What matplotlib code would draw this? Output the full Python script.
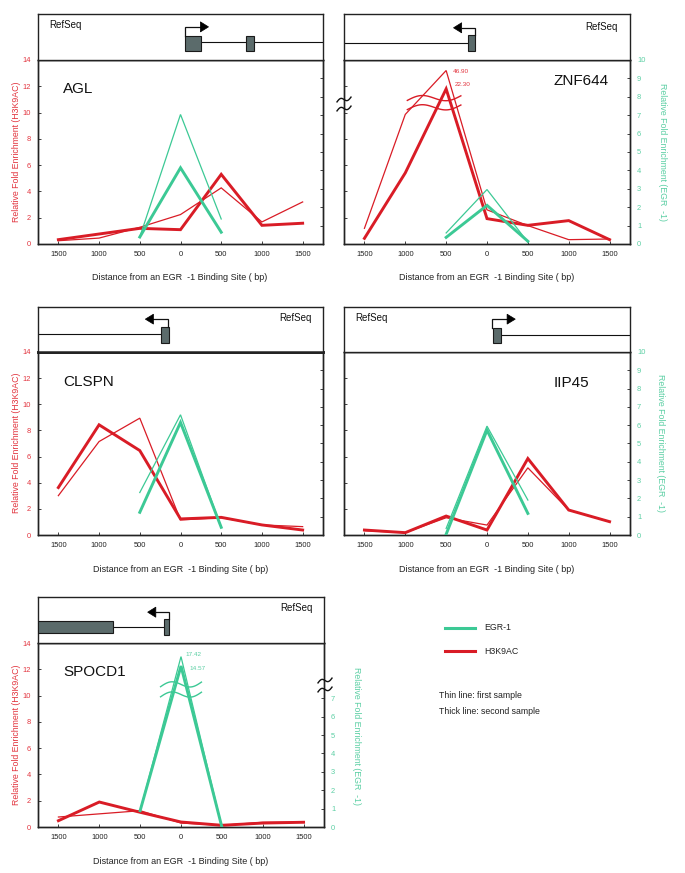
import matplotlib
matplotlib.use('Agg')
import matplotlib.pyplot as plt
import numpy as np
from matplotlib.lines import Line2D
from matplotlib.patches import Rectangle, Polygon

plt.rcParams['font.family'] = ['Liberation Sans', 'DejaVu Sans']

RED = '#d91c26'
GREEN = '#3cc995'
RED_TXT = '#e2343e'
GREEN_TXT = '#5ccfa4'
SPINE = '#222222'
EXON = '#5b6b6b'

# ---------------- data ----------------
positions = [-1500, -1000, -500, 0, 500, 1000, 1500]
tick_labels = ['1500', '1000', '500', '0', '500', '1000', '1500']
egr_positions = [-500, 0, 500]

agl_h3_thin = [0.25, 0.45, 1.27, 2.24, 4.27, 1.68, 3.2]
agl_h3_thick = [0.33, 0.76, 1.19, 1.09, 5.3, 1.42, 1.58]
agl_egr_thin = [0.38, 7.04, 1.36]
agl_egr_thick = [0.38, 4.14, 0.64]

znf_h3_thin = [1.19, 9.86, 13.2, 2.6, 1.4, 0.33, 0.38]
znf_h3_thick = [0.43, 5.41, 11.8, 1.93, 1.42, 1.78, 0.33]
znf_egr_thin = [0.6, 2.96, 0.1]
znf_egr_thick = [0.36, 2.1, 0.15]
znf_peak_labels = ['46.90', '22.30']

clspn_h3_thin = [3.01, 7.15, 8.94, 1.15, 1.33, 0.77, 0.64]
clspn_h3_thick = [3.63, 8.43, 6.46, 1.23, 1.35, 0.77, 0.38]
clspn_egr_thin = [2.32, 6.57, 0.42]
clspn_egr_thick = [1.24, 6.15, 0.42]

iip_h3_thin = [0.33, 0.18, 1.32, 0.76, 5.14, 1.91, 1.02]
iip_h3_thick = [0.38, 0.18, 1.45, 0.38, 5.85, 1.91, 1.02]
iip_egr_thin = [0.36, 5.95, 1.91]
iip_egr_thick = [0.04, 5.73, 1.18]

spocd_thin_positions = [-1500, -500, 0, 500, 1000, 1500]
spocd_h3_thin = [0.76, 1.24, 0.3, 0.13, 0.36, 0.38]
spocd_h3_thick = [0.48, 1.9, 1.12, 0.38, 0.13, 0.3, 0.36]
spocd_egr_thin = [0.89, 9.26, 0.0]
spocd_egr_thick = [0.89, 8.75, 0.0]
spocd_peak_labels = ['17.42', '14.57']

# gene structures (bp): exons (start, end)
agl_exons = [(61, 250), (810, 904)]
znf_exons = [(-238, -144)]
clspn_exons = [(-240, -143)]
iip_exons = [(69, 171)]
spocd_exons = [(-1750, -836), (-208, -151)]

W, H = 685, 873
fig = plt.figure(figsize=(W / 100, H / 100), dpi=100)


def rect(x0, y0, x1, y1):
    return [x0 / W, 1 - y1 / H, (x1 - x0) / W, (y1 - y0) / H]


def style_spines(ax, lw=1.0):
    for s in ax.spines.values():
        s.set_color(SPINE)
        s.set_linewidth(lw)


def make_panel(main_box, track_box, name, name_xy, name_ha,
               h3_thin, h3_thick, egr_thin, egr_thick,
               left_labels, right_labels, right_ticks,
               h3_thin_x=None, refseq_xy=(0.04, 0.76), refseq_ha='left',
               sep_lw=1.0):
    ax = fig.add_axes(rect(*main_box))
    ax2 = ax.twinx()
    ax.set_xlim(-1750, 1750)
    ax.set_ylim(0, 14)
    ax2.set_ylim(0, 10)
    style_spines(ax)
    style_spines(ax2)
    ax.spines['top'].set_linewidth(sep_lw)
    ax2.spines['top'].set_linewidth(sep_lw)

    ax.plot(positions if h3_thin_x is None else h3_thin_x, h3_thin,
            color=RED, lw=0.9, solid_joinstyle='miter', zorder=3)
    ax.plot(positions, h3_thick, color=RED, lw=2.1, solid_joinstyle='miter', zorder=3)
    ax2.plot(egr_positions, egr_thin, color=GREEN, lw=0.9, solid_joinstyle='miter', zorder=3)
    ax2.plot(egr_positions, egr_thick, color=GREEN, lw=2.1, solid_joinstyle='miter', zorder=3)

    ax.set_xticks(positions)
    ax.set_xticklabels(tick_labels)
    ax.tick_params(axis='x', direction='in', length=2.5, width=0.6, labelsize=5.4,
                   pad=5, colors=SPINE, labelcolor='#222222')
    ax.set_yticks(range(0, 15, 2))
    ax.tick_params(axis='y', direction='in', length=2.5, width=0.6, labelsize=5.4,
                   pad=5, colors=SPINE, labelcolor=RED_TXT, labelleft=left_labels)
    ax2.set_yticks(right_ticks)
    ax2.tick_params(axis='y', direction='in', length=2.5, width=0.6, labelsize=5.4,
                    pad=5, colors=SPINE, labelcolor=GREEN_TXT, labelright=right_labels)

    ax.text(name_xy[0], name_xy[1], name, ha=name_ha, va='center', fontsize=11,
            color='#111111', zorder=5)

    # track
    tr = fig.add_axes(rect(*track_box))
    tr.set_xlim(-1750, 1750)
    tr.set_ylim(0, 1)
    tr.set_xticks([])
    tr.set_yticks([])
    style_spines(tr)
    tr.spines['bottom'].set_linewidth(sep_lw)
    tr.text(refseq_xy[0], refseq_xy[1], 'RefSeq', transform=tr.transAxes,
            ha=refseq_ha, va='center', fontsize=7, color='#111111')
    return ax, ax2, tr


def draw_gene(tr, exons, tss, tip, line_span, line_y, box_y, arrow_top,
              small_box=None):
    tr.plot(line_span, [line_y, line_y], color='#111111', lw=0.8, zorder=2)
    for i, (s, e) in enumerate(exons):
        y0, y1 = box_y
        if small_box is not None and i == small_box[0]:
            y0, y1 = small_box[1]
        tr.add_patch(Rectangle((s, y0), e - s, y1 - y0, facecolor=EXON,
                               edgecolor='#1a1a1a', lw=0.8, zorder=3))
    box_top = box_y[1] if small_box is None else max(box_y[1], small_box[1][1])
    hl = 100 if tip > tss else -100
    tr.plot([tss, tss, tip - hl], [box_top, arrow_top, arrow_top], color='#111111',
            lw=0.9, zorder=3, solid_joinstyle='miter')
    tr.add_patch(Polygon([(tip - hl, arrow_top - 0.11), (tip - hl, arrow_top + 0.11),
                          (tip, arrow_top)], closed=True, facecolor='black',
                         edgecolor='black', lw=0.5, zorder=4))


def wave(ax, x0, x1, c, a, tilt, color):
    t = np.linspace(0, 1, 60)
    x = x0 + (x1 - x0) * t
    y = c + a * np.sin(2 * np.pi * t) + tilt * (t - 0.5)
    ax.plot(x, y, color=color, lw=1.0, zorder=4, clip_on=False)


def fig_break(xc, yc):
    t = np.linspace(0, 1, 40)
    for dy in (-4.5, 4.5):
        xs = xc - 7 + 14 * t
        ys = yc + dy - 4 * (t - 0.5) * 1.2 - 2.2 * np.sin(2 * np.pi * t)
        fig.add_artist(Line2D(xs / W, 1 - ys / H, color='#111111', lw=1.0,
                              transform=fig.transFigure))


def xlabel(xc, yc):
    fig.text(xc / W, 1 - yc / H, 'Distance from an EGR  -1 Binding Site ( bp)',
             ha='center', va='center', fontsize=6.5, color='#222222')


def left_ylabel(yc):
    fig.text(17 / W, 1 - yc / H, 'Relative Fold Enrichment (H3K9AC)', ha='center',
             va='center', rotation=90, fontsize=6.3, color=RED_TXT)


def right_ylabel(xc, yc):
    fig.text(xc / W, 1 - yc / H, 'Relative Fold Enrichment (EGR  -1)', ha='center',
             va='center', rotation=270, fontsize=6.3, color=GREEN_TXT)


# ---------------- AGL ----------------
ax, ax2, tr = make_panel((38, 60, 323, 244), (38, 14, 323, 60), 'AGL', (-1440, 11.8), 'left',
                         agl_h3_thin, agl_h3_thick, agl_egr_thin, agl_egr_thick,
                         True, False, range(0, 11))
draw_gene(tr, agl_exons, 61, 344, [250, 1750], 0.39, (0.2, 0.52), 0.72)
xlabel(180, 277)
left_ylabel(152)

# ---------------- ZNF644 ----------------
ax, ax2, tr = make_panel((344, 60, 630, 244), (344, 14, 630, 60), 'ZNF644', (815, 12.4), 'left',
                         znf_h3_thin, znf_h3_thick, znf_egr_thin, znf_egr_thick,
                         False, True, range(0, 11), refseq_xy=(0.958, 0.72),
                         refseq_ha='right')
draw_gene(tr, znf_exons, -144, -410, [-1750, -238], 0.38, (0.2, 0.54), 0.70)
ax.text(-422, 13.1, znf_peak_labels[0], color=RED_TXT, fontsize=4.6, ha='left', va='center')
ax.text(-390, 12.1, znf_peak_labels[1], color=RED_TXT, fontsize=4.6, ha='left', va='center')
wave(ax, -975, -320, 11.1, 0.28, 0.35, RED)
wave(ax, -975, -320, 10.4, 0.28, 0.35, RED)
fig_break(344, 104)
xlabel(487, 277)
right_ylabel(662, 152)

# ---------------- CLSPN ----------------
ax, ax2, tr = make_panel((38, 352, 323, 535), (38, 307, 323, 352), 'CLSPN', (-1440, 11.7), 'left',
                         clspn_h3_thin, clspn_h3_thick, clspn_egr_thin, clspn_egr_thick,
                         True, False, range(0, 11), refseq_xy=(0.96, 0.76),
                         refseq_ha='right', sep_lw=1.8)
draw_gene(tr, clspn_exons, -155, -432, [-1750, -240], 0.4, (0.2, 0.56), 0.73)
xlabel(181, 569)
left_ylabel(443)

# ---------------- IIP45 ----------------
ax, ax2, tr = make_panel((344, 352, 630, 535), (344, 307, 630, 352), 'IIP45', (815, 11.6), 'left',
                         iip_h3_thin, iip_h3_thick, iip_egr_thin, iip_egr_thick,
                         False, True, range(0, 11), refseq_xy=(0.038, 0.76))
draw_gene(tr, iip_exons, 61, 346, [171, 1750], 0.38, (0.2, 0.53), 0.73)
xlabel(487, 569)
right_ylabel(661, 443)

# ---------------- SPOCD1 ----------------
ax, ax2, tr = make_panel((38, 643, 324, 827), (38, 597, 324, 643), 'SPOCD1', (-1440, 11.8), 'left',
                         spocd_h3_thin, spocd_h3_thick, spocd_egr_thin, spocd_egr_thick,
                         True, True, range(0, 8), h3_thin_x=spocd_thin_positions,
                         refseq_xy=(0.96, 0.76), refseq_ha='right')
draw_gene(tr, spocd_exons, -143, -408, [-836, -208], 0.35, (0.22, 0.48), 0.67,
          small_box=(1, (0.17, 0.52)))
ax2.text(49, 9.36, spocd_peak_labels[0], color=GREEN_TXT, fontsize=4.6, ha='left', va='center')
ax2.text(102, 8.62, spocd_peak_labels[1], color=GREEN_TXT, fontsize=4.6, ha='left', va='center')
wave(ax2, -250, 250, 7.75, 0.2, 0.25, GREEN)
wave(ax2, -250, 250, 7.2, 0.2, 0.25, GREEN)
fig_break(325, 685)
xlabel(181, 861)
left_ylabel(735)
right_ylabel(356, 736)

# ---------------- legend ----------------
fig.add_artist(Line2D([445 / W, 475 / W], [1 - 628 / H, 1 - 628 / H], color=GREEN, lw=2.2,
                      transform=fig.transFigure))
fig.add_artist(Line2D([445 / W, 475 / W], [1 - 651 / H, 1 - 651 / H], color=RED, lw=2.2,
                      transform=fig.transFigure))
fig.text(484 / W, 1 - 628 / H, 'EGR-1', fontsize=6.3, va='center', ha='left', color='#222222')
fig.text(484 / W, 1 - 651 / H, 'H3K9AC', fontsize=6.3, va='center', ha='left', color='#222222')
fig.text(439 / W, 1 - 696 / H, 'Thin line: first sample', fontsize=6.3, va='center',
         ha='left', color='#222222')
fig.text(439 / W, 1 - 712 / H, 'Thick line: second sample', fontsize=6.3, va='center',
         ha='left', color='#222222')

fig.savefig('out.png', dpi=100, facecolor='white')
